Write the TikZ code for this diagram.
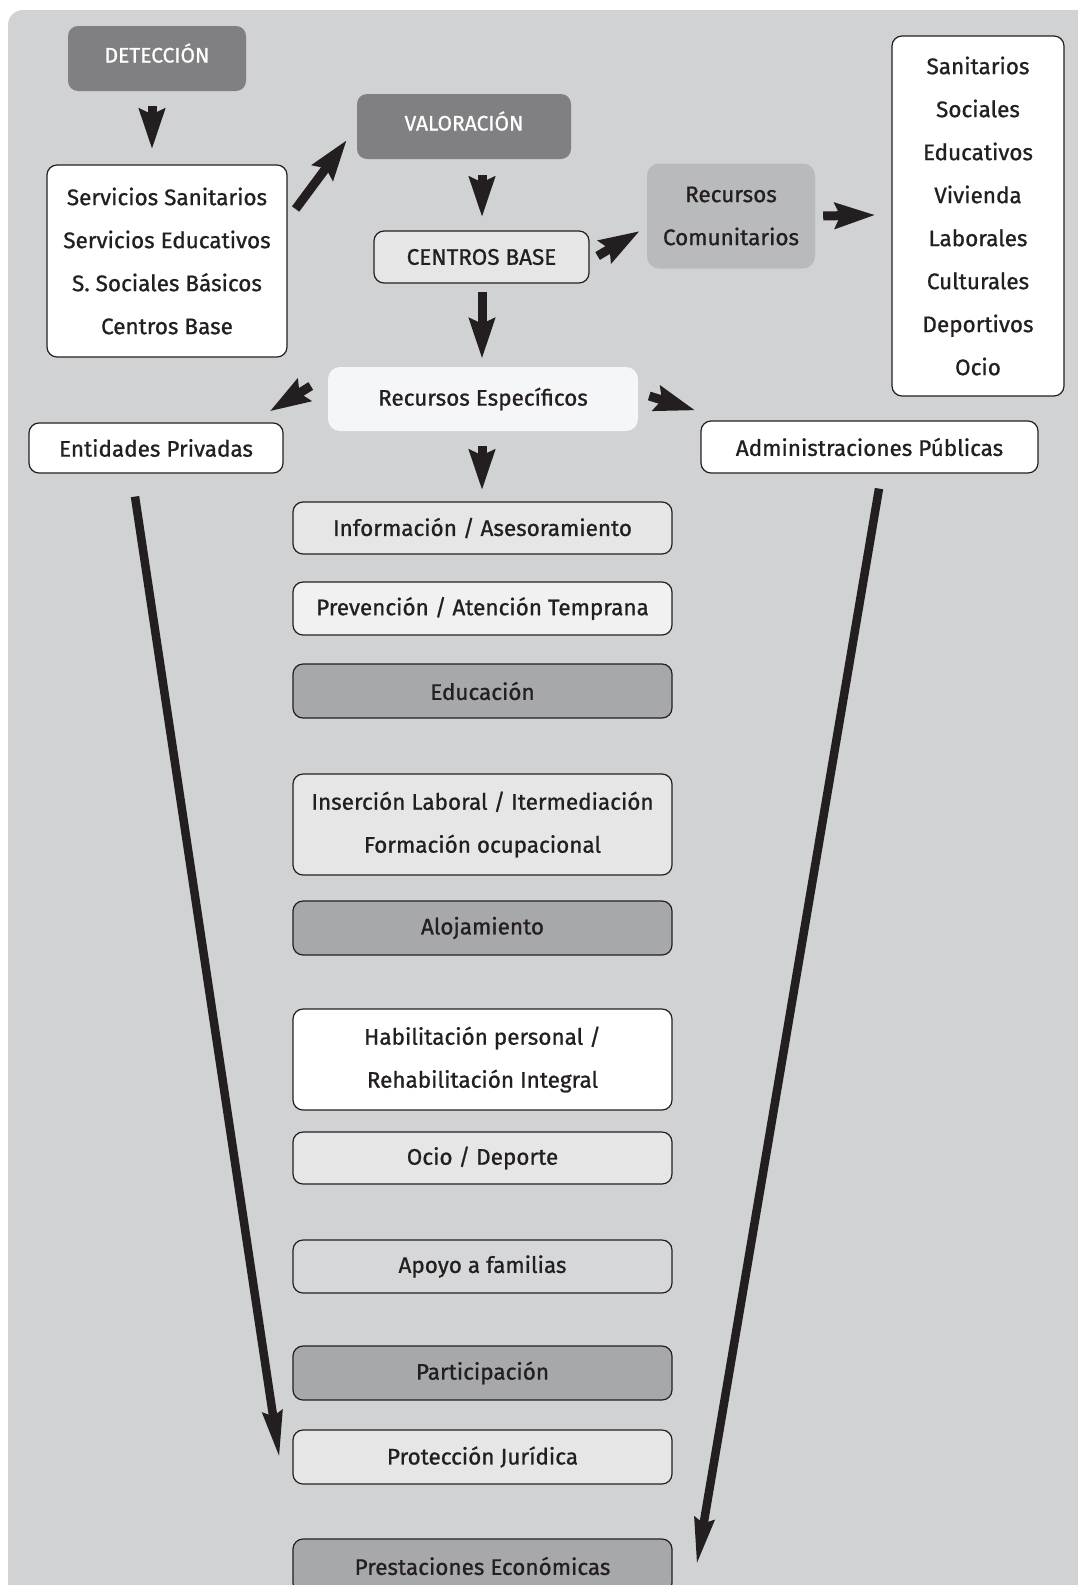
\documentclass[tikz,border=0pt]{standalone}
\usepackage{fontspec}
\setmainfont{Fira Sans}[UprightFeatures={FakeBold=0.9}]
\usetikzlibrary{arrows.meta}

\definecolor{panelgray}{HTML}{D1D2D4}
\definecolor{headgray}{HTML}{808083}
\definecolor{boxdark}{HTML}{A7A8AB}
\definecolor{boxmid}{HTML}{B9BABC}
\definecolor{boxlight}{HTML}{E6E6E7}
\definecolor{boxpale}{HTML}{F1F1F2}
\definecolor{boxsoft}{HTML}{D6D7D9}
\definecolor{boxblue}{HTML}{F5F6F8}
\definecolor{ink}{HTML}{231F20}

\tikzset{
    box/.style={rounded corners=10pt, draw=ink, line width=1.2pt, text=ink,
        align=center, inner sep=0pt, font=\fontsize{22.5}{43}\selectfont},
    flat/.style={rounded corners=12pt, text=ink, align=center, inner sep=0pt,
        font=\fontsize{22.5}{43}\selectfont},
    head/.style={rounded corners=10pt, fill=headgray, text=white, inner sep=0pt,
        text height=16pt, text depth=8pt, font=\fontsize{21}{25}\selectfont},
    midbox/.style={box, minimum width=379pt},
    bigarrow/.style={draw=ink, line width=9pt, -{Stealth[length=40pt,width=25pt,inset=5pt]}},
    longarrow/.style={draw=ink, line width=8.5pt, -{Stealth[length=46pt,width=19pt,inset=4pt]}}
}

\begin{document}
\begin{tikzpicture}[x=1pt, y=-1pt]
    % Page and panel
    \useasboundingbox (0,0) rectangle (1077,1585);
    \fill[white] (0,0) rectangle (1077,1585);
    \fill[panelgray, rounded corners=15pt] (8,10) rectangle (1110,1620);

    % Top row
    \node[head, minimum width=178pt, minimum height=65pt] (det) at (157,58.5) {DETECCIÓN};
    \node[head, minimum width=214pt, minimum height=65pt] (val) at (464,126.5) {VALORACIÓN};
    \node[box, fill=white, minimum width=240pt, minimum height=192pt] (serv) at (167,261)
        {Servicios Sanitarios\\Servicios Educativos\\S. Sociales Básicos\\Centros Base};
    \node[box, fill=boxlight, minimum width=215pt, minimum height=52pt] (cbase) at (481.5,257) {CENTROS BASE};
    \node[flat, fill=boxmid, minimum width=168pt, minimum height=105pt] (rcom) at (731,216)
        {Recursos\\Comunitarios};
    \node[box, fill=white, minimum width=172pt, minimum height=360pt] (list) at (978,216)
        {Sanitarios\\Sociales\\Educativos\\Vivienda\\Laborales\\Culturales\\Deportivos\\Ocio};

    % Second row
    \node[flat, fill=boxblue, minimum width=310pt, minimum height=64pt] (resp) at (483,399) {Recursos Específicos};
    \node[box, fill=white, minimum width=254pt, minimum height=50pt] (priv) at (156,448) {Entidades Privadas};
    \node[box, fill=white, minimum width=337pt, minimum height=52pt] (pub) at (869.5,447) {Administraciones Públicas};

    % Middle column
    \node[midbox, fill=boxlight, minimum height=52pt] (info) at (482.5,528) {Información / Asesoramiento};
    \node[midbox, fill=boxpale, minimum height=53pt] (prev) at (482.5,608.5) {Prevención / Atención Temprana};
    \node[midbox, fill=boxdark, minimum height=54pt] (edu) at (482.5,691) {Educación};
    \node[midbox, fill=boxlight, minimum height=101pt] (ins) at (482.5,824.5)
        {Inserción Laboral / Itermediación\\Formación ocupacional};
    \node[midbox, fill=boxdark, minimum height=54pt] (aloj) at (482.5,928) {Alojamiento};
    \node[midbox, fill=white, minimum height=101pt] (hab) at (482.5,1059.5)
        {Habilitación personal /\\Rehabilitación Integral};
    \node[midbox, fill=boxlight, minimum height=52pt] (ocio) at (482.5,1158) {Ocio / Deporte};
    \node[midbox, fill=boxsoft, minimum height=53pt] (apoyo) at (482.5,1266.5) {Apoyo a familias};
    \node[midbox, fill=boxdark, minimum height=54pt] (part) at (482.5,1373) {Participación};
    \node[midbox, fill=boxlight, minimum height=54pt] (prot) at (482.5,1457) {Protección Jurídica};
    \node[midbox, fill=boxdark, minimum height=54pt] (prest) at (482.5,1566) {Prestaciones Económicas};

    % Short arrows
    \draw[bigarrow] ([xshift=-5pt,yshift=-15pt]det.south) -- ([xshift=-15pt,yshift=15pt]serv.north);
    \draw[bigarrow] ([xshift=8pt,yshift=52pt]serv.east) -- ([xshift=-10pt,yshift=-13.5pt]val.west);
    \draw[bigarrow] ([xshift=18pt,yshift=-16pt]val.south) -- ([xshift=0.5pt,yshift=13pt]cbase.north);
    \draw[bigarrow] ([xshift=0.5pt,yshift=-8pt]cbase.south) -- ([xshift=-1pt,yshift=8pt]resp.north);
    \draw[bigarrow] ([xshift=8pt,yshift=1pt]cbase.east) -- ([xshift=-7pt,yshift=-15pt]rcom.west);
    \draw[bigarrow] ([xshift=8pt]rcom.east) -- ([xshift=-16pt,yshift=1pt]list.west);
    \draw[bigarrow] ([xshift=-17pt,yshift=13pt]resp.west) -- ([xshift=-14pt,yshift=11pt]priv.north east);
    \draw[bigarrow] ([xshift=11pt,yshift=3pt]resp.east) -- ([xshift=-5pt,yshift=10pt]pub.north west);
    \draw[bigarrow] ([xshift=-1pt,yshift=-15pt]resp.south) -- ([xshift=-0.5pt,yshift=11pt]info.north);

    % Long arrows
    \draw[longarrow] ([xshift=-21pt,yshift=-23pt]priv.south) -- ([xshift=-13pt,yshift=-1pt]prot.west);
    \draw[longarrow] ([xshift=9.5pt,yshift=-15pt]pub.south) -- ([xshift=24pt,yshift=1pt]prest.east);
\end{tikzpicture}
\end{document}
